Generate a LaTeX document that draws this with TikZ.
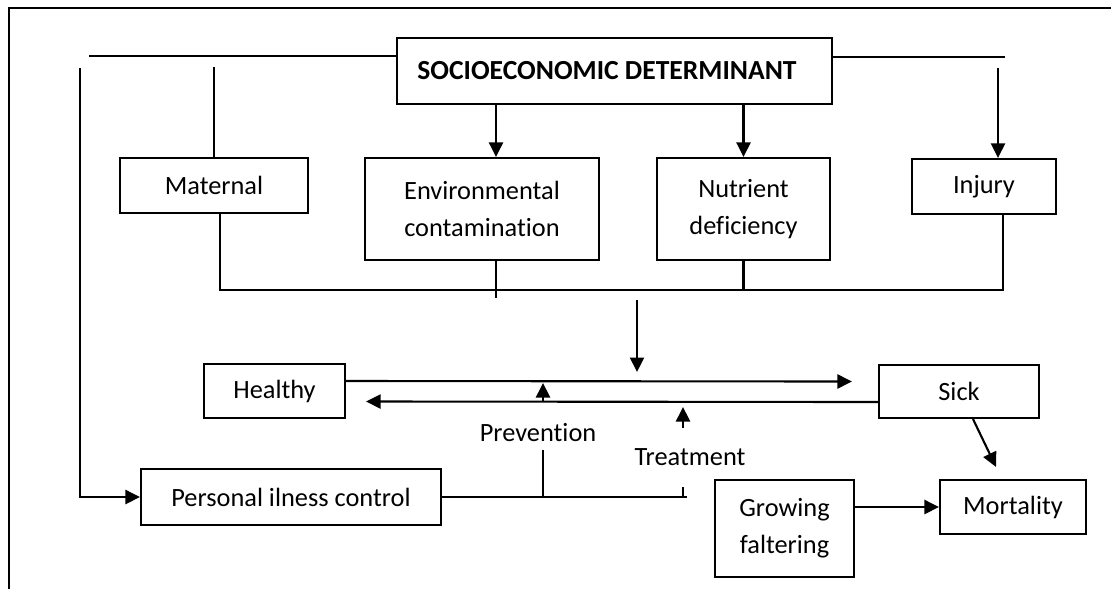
\documentclass[tikz,border=0pt]{standalone}
\usepackage{fontspec}
\setmainfont{Carlito}[Ligatures=NoCommon]
\usetikzlibrary{arrows.meta}

\begin{document}
\begin{tikzpicture}[x=0.02cm, y=-0.02cm, >={Triangle[length=0.29cm,width=0.28cm]},
  font=\fontsize{15}{21}\selectfont, line width=1.2pt,
  box/.style={draw, align=center, inner sep=0pt},
  lbl/.style={inner sep=1pt}]
\useasboundingbox (0,0) rectangle (1111,589);
% --- frame: top and left edges only ---
\draw (1111,8) -- (9,8) -- (9,589);
% --- determinant and its four causes ---
\node[box, minimum width=8.7cm, minimum height=1.32cm,
  font=\fontsize{15.7}{21}\selectfont\bfseries] (socio) at (614.5,71) {SOCIOECONOMIC DETERMINANT\hspace{0.3cm}};
\node[box, minimum width=3.76cm, minimum height=1.1cm] (maternal) at (214,185.5) {Maternal};
\node[box, minimum width=4.68cm, minimum height=2.04cm] (env) at (482,209) {Environmental\\contamination};
\node[box, minimum width=3.46cm, minimum height=2.04cm] (nutrient) at (743.5,209) {Nutrient\\deficiency};
\node[box, minimum width=2.88cm, minimum height=1.1cm] (injury) at (984,186.5) {Injury};
% --- health states and outcomes ---
\node[box, minimum width=2.82cm, minimum height=1.08cm] (healthy) at (274.5,391) {Healthy};
\node[box, minimum width=3.2cm, minimum height=1.06cm] (sick) at (959,391.5) {Sick};
\node[box, minimum width=6.0cm, minimum height=1.12cm] (personal) at (291,497) {Personal ilness control};
\node[box, minimum width=2.78cm, minimum height=1.94cm] (growing) at (784.5,528.5) {Growing\\faltering};
\node[box, minimum width=2.92cm, minimum height=1.08cm] (mortality) at (1013,507) {Mortality};
\node[lbl] (prev) at (538,433) {Prevention};
\node[lbl] (treat) at (690,457) {Treatment};
% --- helper points ---
\coordinate (tl) at (89,56);
\coordinate (lt) at (80,68);
\coordinate (rt) at (1005,57);
\coordinate (it) at (998,68);
\coordinate (ea) at (496,0);
\coordinate (busL) at (220,290);
\coordinate (busR) at (1003,290);
\coordinate (dn) at (637,300);
\coordinate (pu) at (543,402);
\coordinate (tu) at (683,428);
\coordinate (pvl) at (543,450);
\coordinate (tend) at (687,497);
% --- from the determinant ---
\draw (tl) -- (tl -| socio.west);
\draw[->] (lt) |- (personal.west);
\draw (maternal.north) -- ++(0,-90);
\draw[->] (ea |- socio.south) -- (ea |- env.north);
\draw[->] (socio.south -| nutrient.north) -- (nutrient.north);
\draw (rt -| socio.east) -- (rt);
\draw[->] (it) -- (it |- injury.north);
% --- causes joined below ---
\draw (busL |- maternal.south) -- (busL) -- (busR) -- (busR |- injury.south);
\draw (ea |- env.south) -- ++(0,37);
\draw (nutrient.south) -- (nutrient.south |- busL);
\draw[->] (dn) -- ++(0,72);
% --- healthy <-> sick ---
\draw[->] ([yshift=0.2cm]healthy.east) -- ([yshift=0.2cm, xshift=-0.52cm]sick.west);
\draw[->] ([yshift=-0.21cm]sick.west) -- ([yshift=-0.21cm, xshift=0.4cm]healthy.east);
\draw[->] (pu) -- ++(0,-19);
\draw[->] (tu) -- ++(0,-21);
% --- control, prevention, treatment ---
\draw (personal.east) -- (tend) ++(-4,0) -- ++(0,-10);
\draw (pvl) -- (pvl |- personal.east);
% --- outcomes ---
\draw[->] (growing.east |- mortality.west) -- (mortality.west);
\draw[->] ([xshift=0.28cm]sick.south) -- ([xshift=-0.34cm, yshift=0.24cm]mortality.north);
\end{tikzpicture}
\end{document}
